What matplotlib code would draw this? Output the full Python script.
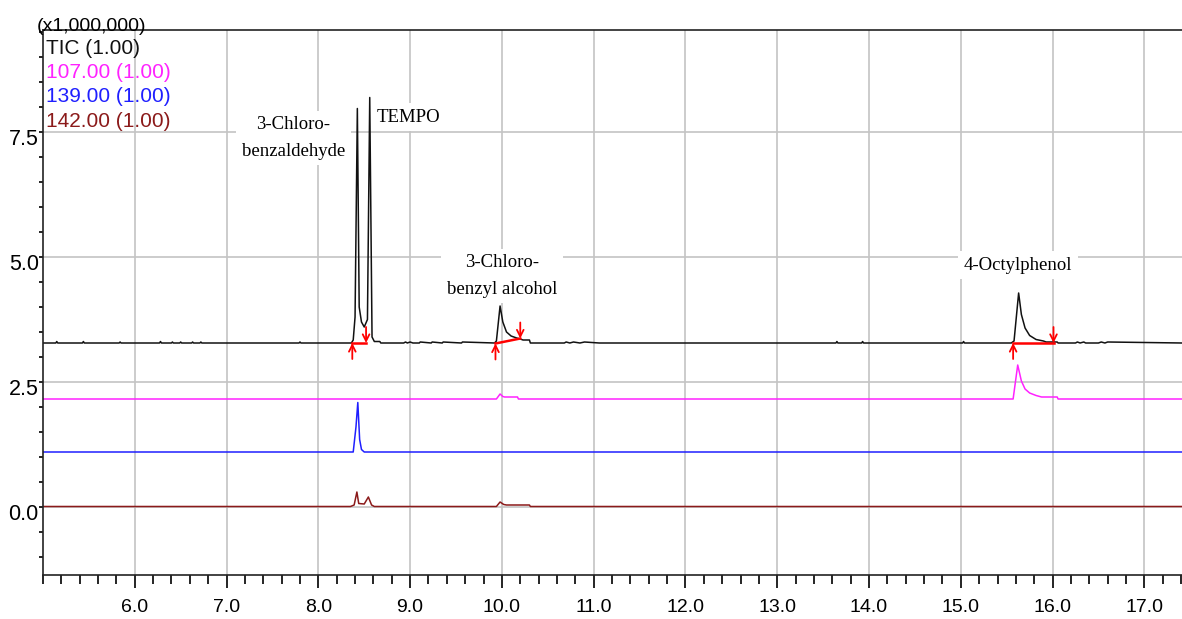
import matplotlib
matplotlib.use("Agg")
import matplotlib.pyplot as plt
from matplotlib.ticker import MultipleLocator, FormatStrFormatter
from matplotlib.transforms import ScaledTranslation

# retention time (min) / intensity (x1,000,000)
tic_time = [5.0, 5.14, 5.15, 5.16, 5.43, 5.44, 5.45, 5.83, 5.84, 5.85,
            6.27, 6.28, 6.29, 6.40, 6.41, 6.42, 6.49, 6.50, 6.51, 6.62, 6.63, 6.64,
            6.71, 6.72, 6.73, 7.79, 7.80, 7.81,
            8.36, 8.38, 8.40, 8.425, 8.445, 8.47, 8.50, 8.535, 8.56, 8.585, 8.61, 8.67, 8.68,
            8.93, 8.95, 8.97, 9.00, 9.03, 9.10, 9.11, 9.23, 9.24, 9.35, 9.36, 9.56, 9.57,
            9.92, 9.94, 9.98, 10.01, 10.05, 10.10, 10.16, 10.20, 10.23, 10.30, 10.31,
            10.68, 10.70, 10.74, 10.78, 10.85, 10.90, 11.06, 11.07,
            13.64, 13.65, 13.66, 13.92, 13.93, 13.94, 15.02, 15.03, 15.04,
            15.55, 15.58, 15.63, 15.66, 15.70, 15.75, 15.82, 15.90, 15.93, 16.05, 16.06,
            16.25, 16.27, 16.30, 16.34, 16.36, 16.50, 16.53, 16.57, 16.60, 17.41]
tic_int = [3.28, 3.28, 3.31, 3.28, 3.28, 3.31, 3.28, 3.28, 3.30, 3.28,
           3.28, 3.31, 3.28, 3.28, 3.30, 3.28, 3.28, 3.30, 3.28, 3.28, 3.30, 3.28,
           3.28, 3.30, 3.28, 3.28, 3.30, 3.28,
           3.28, 3.34, 3.80, 7.97, 4.00, 3.70, 3.60, 3.75, 8.19, 3.40, 3.31, 3.31, 3.28,
           3.28, 3.30, 3.28, 3.30, 3.28, 3.28, 3.30, 3.28, 3.30, 3.28, 3.30, 3.28, 3.30,
           3.28, 3.32, 4.02, 3.70, 3.50, 3.42, 3.38, 3.36, 3.34, 3.34, 3.28,
           3.28, 3.30, 3.28, 3.30, 3.28, 3.30, 3.28, 3.28,
           3.28, 3.31, 3.28, 3.28, 3.31, 3.28, 3.28, 3.31, 3.28,
           3.28, 3.32, 4.28, 3.85, 3.58, 3.43, 3.35, 3.32, 3.30, 3.30, 3.28,
           3.28, 3.30, 3.28, 3.30, 3.28, 3.28, 3.30, 3.28, 3.30, 3.28]

mz107_time = [5.0, 9.94, 9.98, 10.01, 10.03, 10.17, 10.18, 15.57, 15.62, 15.66,
              15.70, 15.75, 15.82, 15.88, 16.05, 16.06, 17.41]
mz107_int = [2.16, 2.16, 2.26, 2.21, 2.20, 2.20, 2.16, 2.16, 2.84, 2.52,
             2.36, 2.28, 2.23, 2.20, 2.20, 2.16, 2.16]

mz139_time = [5.0, 8.38, 8.41, 8.43, 8.45, 8.47, 8.50, 17.41]
mz139_int = [1.10, 1.10, 1.60, 2.09, 1.35, 1.15, 1.10, 1.10]

mz142_time = [5.0, 8.35, 8.39, 8.42, 8.44, 8.50, 8.545, 8.58, 8.61,
              9.94, 9.98, 10.02, 10.05, 10.30, 10.31, 17.41]
mz142_int = [0.01, 0.01, 0.04, 0.30, 0.07, 0.06, 0.20, 0.04, 0.01,
             0.01, 0.10, 0.05, 0.04, 0.04, 0.01, 0.01]

# integration marks (start, end) on the TIC
peak_start = [8.37, 9.93, 15.57]
peak_end = [8.52, 10.20, 16.01]
base_start = [3.28, 3.27, 3.28]
base_end = [3.28, 3.37, 3.28]

labels = ["3-Chloro-\nbenzaldehyde", "TEMPO", "3-Chloro-\nbenzyl alcohol", "4-Octylphenol"]
label_x = [7.73, 8.98, 10.0, 15.62]
label_y = [7.38, 7.80, 4.62, 4.84]

trace_names = ["TIC (1.00)", "107.00 (1.00)", "139.00 (1.00)", "142.00 (1.00)"]
trace_colors = ["#111111", "#ff22ff", "#1f1fff", "#8b1a1a"]

fig = plt.figure(figsize=(11.82, 6.19), dpi=100)
ax = fig.add_axes([43 / 1182, 44 / 619, 1 - 43 / 1182, 545 / 619])

ax.plot(tic_time, tic_int, color=trace_colors[0], lw=1.1)
ax.plot(mz107_time, mz107_int, color=trace_colors[1], lw=1.1)
ax.plot(mz139_time, mz139_int, color=trace_colors[2], lw=1.1)
ax.plot(mz142_time, mz142_int, color=trace_colors[3], lw=1.1)

# baseline and start/end arrows
for s, e, ys, ye in zip(peak_start, peak_end, base_start, base_end):
    ax.plot([s, e], [ys, ye], color="red", lw=1.8, zorder=4)
    ax.annotate("", xy=(s, ys), xytext=(s, ys - 0.32),
                arrowprops=dict(arrowstyle="->", color="red", lw=1.3,
                                shrinkA=0, shrinkB=0, mutation_scale=12), zorder=5)
    ax.annotate("", xy=(e, ye), xytext=(e, ye + 0.32),
                arrowprops=dict(arrowstyle="->", color="red", lw=1.3,
                                shrinkA=0, shrinkB=0, mutation_scale=12), zorder=5)

for txt, x, y in zip(labels, label_x, label_y):
    ax.text(x, y, txt, ha="center", va="center", family="Liberation Serif",
            fontsize=13.5, linespacing=1.7, zorder=6,
            bbox=dict(facecolor="white", edgecolor="none", pad=4))

ax.set_xlim(5.0, 17.41)
ax.set_ylim(-1.36, 9.54)

ax.xaxis.set_major_locator(MultipleLocator(1.0))
ax.xaxis.set_minor_locator(MultipleLocator(0.2))
ax.xaxis.set_major_formatter(FormatStrFormatter("%.1f"))
ax.yaxis.set_major_locator(MultipleLocator(2.5))
ax.yaxis.set_minor_locator(MultipleLocator(0.5))
ax.yaxis.set_major_formatter(FormatStrFormatter("%.1f"))

ax.tick_params(axis="x", which="major", direction="out", length=9.5, width=1.2,
               pad=8, labelsize=14)
ax.tick_params(axis="x", which="minor", direction="out", length=6.5, width=1.2)
ax.tick_params(axis="y", which="major", direction="out", length=3, width=1.2,
               pad=0, labelsize=15.5)
ax.tick_params(axis="y", which="minor", direction="out", length=3, width=1.2)
ax.set_xticks([t for t in ax.get_xticks() if 5.5 < t < 17.5])

off = ScaledTranslation(0, -5 / 100, fig.dpi_scale_trans)
for lab in ax.get_yticklabels():
    lab.set_transform(lab.get_transform() + off)

ax.grid(True, which="major", color="#c4c4c4", lw=1.2)
ax.set_axisbelow(True)
for side in ["left", "bottom", "top"]:
    ax.spines[side].set_color("#222222")
    ax.spines[side].set_linewidth(1.2)
ax.spines["right"].set_visible(False)

fig.text(37 / 1182, 1 - 31 / 619, "(x1,000,000)", fontsize=14, va="baseline",
         family="Liberation Sans")
for i, (name, c) in enumerate(zip(trace_names, trace_colors)):
    fig.text(46 / 1182, 1 - (48 + 24.5 * i) / 619, name, color=c, fontsize=15,
             va="center", family="Liberation Sans")

for lab in ax.get_xticklabels() + ax.get_yticklabels():
    lab.set_family("Liberation Sans")

fig.savefig("out.png", dpi=100)
